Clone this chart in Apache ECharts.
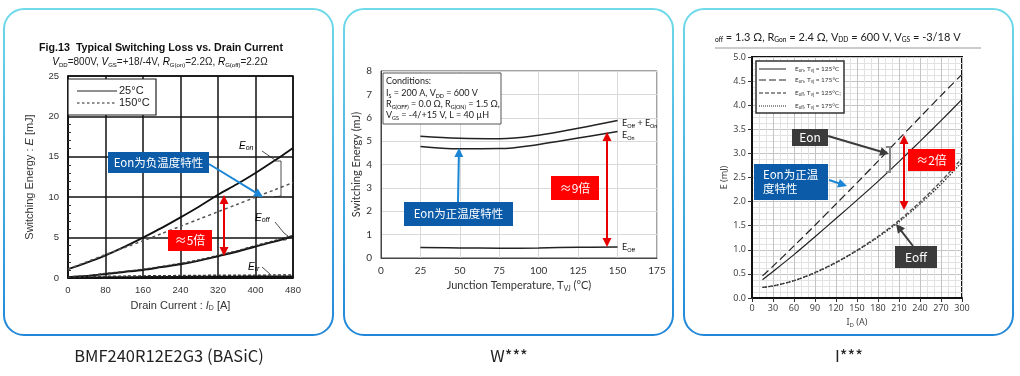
<!DOCTYPE html>
<html>
<head>
<meta charset="utf-8">
<script src="https://cdn.jsdelivr.net/npm/echarts@6/dist/echarts.min.js"></script>
<style>
  html, body { margin: 0; background: #fff; }
  #chart { width: 1020px; height: 376px; }
</style>
</head>
<body>
<div id="chart"></div>
<script>
// ---- panel 1: BASiC, E vs drain current ----
const basicCurrent = [0, 40, 80, 120, 160, 200, 240, 280, 320, 360, 400, 440, 480];
const basicEon25 = [1.1, 1.9, 2.8, 3.85, 5.0, 6.2, 7.5, 8.85, 10.3, 11.6, 13.0, 14.5, 16.1];
const basicEon150 = [1.1, 2.0, 2.9, 3.75, 4.6, 5.5, 6.4, 7.3, 8.2, 9.1, 10.0, 10.9, 11.8];
const basicEoff25 = [0.1, 0.25, 0.5, 0.75, 1.0, 1.35, 1.7, 2.15, 2.7, 3.25, 3.9, 4.5, 5.2];
const basicEoff150 = [0.12, 0.28, 0.55, 0.8, 1.08, 1.42, 1.8, 2.25, 2.8, 3.35, 4.0, 4.6, 5.25];
const basicErr25 = [0.05, 0.08, 0.1, 0.12, 0.14, 0.15, 0.17, 0.18, 0.19, 0.2, 0.21, 0.22, 0.23];
const basicErr150 = [0.1, 0.15, 0.2, 0.23, 0.26, 0.28, 0.3, 0.32, 0.33, 0.34, 0.35, 0.36, 0.37];

// ---- panel 2: W***, E vs junction temperature ----
const wTemp = [25, 50, 75, 100, 125, 150];
const wEtotal = [5.21, 5.12, 5.1, 5.25, 5.55, 5.88];
const wEon = [4.77, 4.67, 4.68, 4.86, 5.13, 5.41];
const wEoff = [0.45, 0.43, 0.42, 0.43, 0.46, 0.47];

// ---- panel 3: I***, E vs drain current ----
const iCurrent = [15, 30, 60, 90, 120, 150, 180, 210, 240, 270, 300];
const iEon125 = [0.38, 0.55, 0.9, 1.27, 1.65, 2.03, 2.42, 2.83, 3.25, 3.68, 4.12];
const iEon175 = [0.46, 0.66, 1.08, 1.51, 1.95, 2.39, 2.84, 3.3, 3.75, 4.2, 4.64];
const iEoff125 = [0.22, 0.25, 0.36, 0.53, 0.74, 0.99, 1.28, 1.61, 1.99, 2.42, 2.9];
const iEoff175 = [0.22, 0.25, 0.36, 0.52, 0.73, 0.98, 1.26, 1.58, 1.95, 2.36, 2.82];

const captions = ['BMF240R12E2G3 (BASiC)', 'W***', 'I***'];

const pairs = (xs, ys) => xs.map((x, i) => [x, ys[i]]);

const chart = echarts.init(document.getElementById('chart'));

const CJK = '"Noto Sans CJK SC", sans-serif';

function arrow(x1, y1, x2, y2, color, width, both) {
  const a = Math.atan2(y2 - y1, x2 - x1);
  const hl = 9, hw = 4.5;
  const head = (x, y, ang) => ({
    type: 'polygon', z: 30,
    shape: { points: [
      [x, y],
      [x - hl * Math.cos(ang) + hw * Math.sin(ang), y - hl * Math.sin(ang) - hw * Math.cos(ang)],
      [x - hl * Math.cos(ang) - hw * Math.sin(ang), y - hl * Math.sin(ang) + hw * Math.cos(ang)]
    ] },
    style: { fill: color }
  });
  const sx = both ? x1 + (hl - 2) * Math.cos(a) : x1;
  const sy = both ? y1 + (hl - 2) * Math.sin(a) : y1;
  const els = [
    { type: 'line', z: 30, shape: { x1: sx, y1: sy, x2: x2 - (hl - 2) * Math.cos(a), y2: y2 - (hl - 2) * Math.sin(a) },
      style: { stroke: color, lineWidth: width } },
    head(x2, y2, a)
  ];
  if (both) els.push(head(x1, y1, a + Math.PI));
  return els;
}

function box(x, y, w, h, fill, text, size) {
  return [
    { type: 'rect', z: 31, shape: { x: x, y: y, width: w, height: h }, style: { fill: fill } },
    { type: 'text', z: 32, x: x + w / 2, y: y + h / 2,
      style: { text: text, fill: '#fff', fontSize: size, fontFamily: CJK, align: 'center', verticalAlign: 'middle' } }
  ];
}

function txt(x, y, text, style) {
  return { type: 'text', z: 32, x: x, y: y, style: Object.assign({ text: text, verticalAlign: 'middle' }, style) };
}

function poly(points, color, width, dash) {
  return { type: 'polyline', z: 30, shape: { points: points },
    style: { stroke: color, lineWidth: width, fill: null, lineDash: dash || null } };
}

const border = new echarts.graphic.LinearGradient(0, 0, 0, 1, [
  { offset: 0, color: '#70dbe9' },
  { offset: 1, color: '#1f86d9' }
]);

const subRich = (font, size) => ({
  n: { fontFamily: font, fontSize: size, fill: '#222', color: '#222' },
  i: { fontFamily: font, fontSize: size, fontStyle: 'italic', color: '#222' },
  s: { fontFamily: font, fontSize: size * 0.6, verticalAlign: 'bottom', lineHeight: size + 2, color: '#222' },
  is: { fontFamily: font, fontSize: size * 0.7, fontStyle: 'italic', verticalAlign: 'bottom', lineHeight: size + 2, color: '#222' }
});

const graphic = [];
// panel borders and captions
[4, 344, 684].forEach((x, k) => {
  graphic.push({ type: 'rect', z: 0, shape: { x: x, y: 9, width: 329, height: 326, r: 20 },
    style: { fill: 'none', stroke: border, lineWidth: 2 } });
  graphic.push(txt(x + 165, 356, captions[k], { fontSize: 16.5, fontFamily: CJK, fill: '#222', align: 'center' }));
});

// panel 1 header
graphic.push(txt(161, 48, 'Fig.13  Typical Switching Loss vs. Drain Current',
  { fontSize: 10.7, fontWeight: 'bold', fontFamily: 'Liberation Sans', fill: '#111', align: 'center' }));
graphic.push(txt(160, 62, '{i|V}{s|DD}{n|=800V, }{i|V}{s|GS}{n|=+18/-4V, }{i|R}{s|G(on)}{n|=2.2Ω, }{i|R}{s|G(off)}{n|=2.2Ω}',
  { align: 'center', rich: subRich('Liberation Sans', 10) }));
// panel 1 legend
graphic.push({ type: 'rect', z: 29, shape: { x: 68, y: 79, width: 88, height: 36 },
  style: { fill: '#fff', stroke: '#222', lineWidth: 1.2 } });
graphic.push(poly([[77, 91], [117, 91]], '#222', 1.2));
graphic.push(poly([[77, 103], [117, 103]], '#222', 1.2, [2.5, 2.5]));
graphic.push(txt(119, 91, '25°C', { fontSize: 11, fontFamily: 'Liberation Sans', fill: '#222' }));
graphic.push(txt(119, 103, '150°C', { fontSize: 11, fontFamily: 'Liberation Sans', fill: '#222' }));
// panel 1 curve labels
graphic.push(txt(239, 146, '{i|E}{is|on}', { rich: subRich('Liberation Sans', 10) }));
graphic.push(poly([[262, 151], [275, 160]], '#222', 0.8));
graphic.push(poly([[275, 161], [281, 161], [281, 196], [274, 197]], '#222', 0.8));
graphic.push(txt(255, 218, '{i|E}{is|off}', { rich: subRich('Liberation Sans', 10) }));
graphic.push(poly([[275, 222], [284, 233], [288, 236], [286, 240], [283, 240]], '#222', 0.8));
graphic.push(txt(248, 267, '{i|E}{is|rr}', { rich: subRich('Liberation Sans', 10) }));
graphic.push(poly([[262, 267], [270, 274]], '#222', 0.8));
// panel 1 annotations
graphic.push(...box(108, 152, 101, 21, '#0b5ba8', 'Eon为负温度特性', 11.5));
graphic.push(...arrow(209, 164, 263, 197, '#1c86d6', 2));
graphic.push(...box(168, 230, 44, 21, '#ff0000', '≈5倍', 12));
graphic.push(...arrow(224, 195, 224, 256, '#e60000', 2, true));

// panel 2 conditions box
const lato = 'Lato';
graphic.push({ type: 'rect', z: 29, shape: { x: 383, y: 73, width: 118, height: 51 },
  style: { fill: '#fff', stroke: '#555', lineWidth: 1 } });
const condRich = subRich(lato, 9);
graphic.push(txt(386, 81, '{n|Conditions:}', { rich: condRich }));
graphic.push(txt(386, 93, '{n|I}{s|S}{n| = 200 A, V}{s|DD}{n| = 600 V}', { rich: condRich }));
graphic.push(txt(386, 104, '{n|R}{s|G(OFF)}{n| = 0.0 Ω, R}{s|G(ON)}{n| = 1.5 Ω,}', { rich: condRich }));
graphic.push(txt(386, 115, '{n|V}{s|GS}{n| = -4/+15 V, L = 40 µH}', { rich: condRich }));
const lblRich = subRich(lato, 9);
graphic.push(txt(622, 123, '{n|E}{s|Off}{n| + E}{s|On}', { rich: lblRich }));
graphic.push(txt(622, 135, '{n|E}{s|On}', { rich: lblRich }));
graphic.push(txt(622, 247, '{n|E}{s|Off}', { rich: lblRich }));
graphic.push(...box(404, 202, 109, 24, '#0b5ba8', 'Eon为正温度特性', 11.5));
graphic.push(...arrow(458, 202, 459, 148, '#1c86d6', 2));
graphic.push(...box(551, 176, 48, 24, '#ff0000', '≈9倍', 12));
graphic.push(...arrow(607, 132, 607, 247, '#e60000', 2, true));

// panel 3 header
graphic.push(txt(715, 37, '{s|off}{n| = 1.3 Ω, R}{s|Gon}{n| = 2.4 Ω, V}{s|DD}{n| = 600 V, V}{s|GS}{n| = -3/18 V}',
  { rich: subRich(lato, 11) }));
graphic.push(poly([[715, 48], [981, 48]], '#999', 1));
// panel 3 legend
graphic.push({ type: 'rect', z: 29, shape: { x: 756, y: 61, width: 88, height: 52 },
  style: { fill: '#fff', stroke: '#333', lineWidth: 1.5 } });
const legRows = [
  [69, null, 'E{s|on}, T{s|vj} = 125°C'],
  [80, [7, 3], 'E{s|on}, T{s|vj} = 175°C'],
  [93, [4, 2], 'E{s|off}, T{s|vj} = 125°C;'],
  [106, [1, 1], 'E{s|off}, T{s|vj} = 175°C']
];
legRows.forEach(r => {
  graphic.push(poly([[759, r[0]], [786, r[0]]], '#222', 1, r[1]));
  graphic.push(txt(795, r[0], r[2], { fontSize: 6.5, fontFamily: lato, fill: '#333',
    rich: { s: { fontSize: 4.5, verticalAlign: 'bottom', lineHeight: 8, color: '#333' } } }));
});
// panel 3 annotations
graphic.push(...box(792, 129, 36, 17, '#3b3b3b', 'Eon', 12));
graphic.push(...arrow(828, 136, 889, 154, '#3b3b3b', 2));
graphic.push(poly([[886, 147], [890, 147], [890, 172], [886, 172]], '#888', 2));
graphic.push({ type: 'rect', z: 31, shape: { x: 754, y: 164, width: 74, height: 36 }, style: { fill: '#0b5ba8' } });
graphic.push(txt(763, 182, 'Eon为正温\n度特性', { fontSize: 11.5, fontFamily: CJK, fill: '#fff', lineHeight: 14 }));
graphic.push(...arrow(829, 180, 847, 186, '#1c86d6', 2));
graphic.push(...box(908, 149, 47, 22, '#ff0000', '≈2倍', 12));
graphic.push(...arrow(904, 135, 904, 210, '#e60000', 2, true));
graphic.push(...box(895, 246, 42, 22, '#3b3b3b', 'Eoff', 12));
graphic.push(...arrow(913, 246, 896, 224, '#3b3b3b', 2));

const line = (name, xi, xs, ys, color, width, type, smooth) => ({
  name: name, type: 'line', xAxisIndex: xi, yAxisIndex: xi,
  data: pairs(xs, ys), showSymbol: false, symbol: 'none', silent: true,
  smooth: smooth === undefined ? 0.3 : smooth,
  lineStyle: { color: color, width: width, type: type || 'solid' }
});

const option = {
  animation: false,
  backgroundColor: '#fff',
  grid: [
    { left: 68, top: 76, width: 225, height: 202, show: true, borderColor: '#111', borderWidth: 1.5, backgroundColor: '#fff' },
    { left: 381, top: 71, width: 276, height: 187, show: true, borderColor: '#444', borderWidth: 1, backgroundColor: '#fff' },
    { left: 752, top: 57, width: 210, height: 241, show: true, borderColor: '#111', borderWidth: 2, backgroundColor: '#fff' }
  ],
  xAxis: [
    { gridIndex: 0, type: 'value', min: 0, max: 480, interval: 80,
      axisLine: { lineStyle: { color: '#111', width: 1.5 } }, axisTick: { show: false },
      axisLabel: { fontSize: 9.5, color: '#333', fontFamily: 'Liberation Sans', margin: 7 },
      splitLine: { lineStyle: { color: '#111', width: 1.5 } },
      name: 'Drain Current : {i|I}{s|D} [A]', nameLocation: 'middle', nameGap: 21,
      nameTextStyle: { fontSize: 11, fontFamily: 'Liberation Sans', color: '#333',
        rich: { i: { fontSize: 11, fontStyle: 'italic', color: '#333' }, s: { fontSize: 7, verticalAlign: 'bottom', lineHeight: 13, color: '#333' } } } },
    { gridIndex: 1, type: 'value', min: 0, max: 175, interval: 25,
      axisLine: { lineStyle: { color: '#444' } }, axisTick: { show: false },
      axisLabel: { fontSize: 10, color: '#333', fontFamily: lato, margin: 8 },
      splitLine: { lineStyle: { color: '#d9d9d9' } },
      name: 'Junction Temperature, T{s|VJ} (°C)', nameLocation: 'middle', nameGap: 21,
      nameTextStyle: { fontSize: 11, fontFamily: lato, color: '#333',
        rich: { s: { fontSize: 7, verticalAlign: 'bottom', lineHeight: 13, color: '#333' } } } },
    { gridIndex: 2, type: 'value', min: 0, max: 300, interval: 30,
      axisLine: { lineStyle: { color: '#111', width: 2 } },
      axisTick: { show: true, length: 4, lineStyle: { color: '#333' } },
      axisLabel: { fontSize: 9, color: '#444', fontFamily: 'Noto Sans', margin: 6 },
      splitLine: { lineStyle: { color: '#c4c4c4' } },
      minorTick: { show: false, splitNumber: 3 },
      minorSplitLine: { show: true, lineStyle: { color: '#e2e2e2' } },
      name: 'I{s|D} (A)', nameLocation: 'middle', nameGap: 17,
      nameTextStyle: { fontSize: 9, fontFamily: 'Noto Sans', color: '#444',
        rich: { s: { fontSize: 6, verticalAlign: 'bottom', lineHeight: 11, color: '#444' } } } }
  ],
  yAxis: [
    { gridIndex: 0, type: 'value', min: 0, max: 25, interval: 5,
      axisLine: { lineStyle: { color: '#111', width: 1.5 } },
      axisTick: { show: false, inside: true },
      minorTick: { show: true, splitNumber: 5, length: 3, lineStyle: { color: '#333' } },
      axisLabel: { fontSize: 9.5, color: '#333', fontFamily: 'Liberation Sans', margin: 9 },
      splitLine: { lineStyle: { color: '#111', width: 1.5 } },
      name: 'Switching Energy : {i|E} [mJ]', nameLocation: 'middle', nameGap: 33,
      nameTextStyle: { fontSize: 11, fontFamily: 'Liberation Sans', color: '#333',
        rich: { i: { fontSize: 11, fontStyle: 'italic', color: '#333' } } } },
    { gridIndex: 1, type: 'value', min: 0, max: 8, interval: 1,
      axisLine: { lineStyle: { color: '#444' } }, axisTick: { show: false },
      axisLabel: { fontSize: 10, color: '#333', fontFamily: lato, margin: 9 },
      splitLine: { lineStyle: { color: '#d9d9d9' } },
      name: 'Switching Energy (mJ)', nameLocation: 'middle', nameGap: 17,
      nameTextStyle: { fontSize: 11, fontFamily: lato, color: '#333' } },
    { gridIndex: 2, type: 'value', min: 0, max: 5, interval: 0.5,
      axisLine: { lineStyle: { color: '#111', width: 2 } },
      axisTick: { show: true, length: 4, lineStyle: { color: '#333' } },
      axisLabel: { fontSize: 9, color: '#444', fontFamily: 'Noto Sans', margin: 6,
        formatter: v => v.toFixed(1) },
      splitLine: { lineStyle: { color: '#c4c4c4' } },
      minorTick: { show: false, splitNumber: 4 },
      minorSplitLine: { show: true, lineStyle: { color: '#e2e2e2' } },
      name: 'E (mJ)', nameLocation: 'middle', nameGap: 22,
      nameTextStyle: { fontSize: 9, fontFamily: 'Noto Sans', color: '#444' } }
  ],
  series: [
    line('Eon 25°C', 0, basicCurrent, basicEon25, '#111', 1.8),
    line('Eon 150°C', 0, basicCurrent, basicEon150, '#555', 1.5, [3, 3]),
    line('Eoff 25°C', 0, basicCurrent, basicEoff25, '#111', 2),
    line('Eoff 150°C', 0, basicCurrent, basicEoff150, '#333', 1.5, [3, 2]),
    line('Err 25°C', 0, basicCurrent, basicErr25, '#111', 1.5),
    line('Err 150°C', 0, basicCurrent, basicErr150, '#333', 1.5, [3, 2]),

    line('Eoff + Eon', 1, wTemp, wEtotal, '#222', 1.5, 'solid', 0.4),
    line('Eon', 1, wTemp, wEon, '#222', 1.5, 'solid', 0.4),
    line('Eoff', 1, wTemp, wEoff, '#222', 1.5, 'solid', 0.4),

    line('Eon Tvj=125°C', 2, iCurrent, iEon125, '#222', 1.2),
    line('Eon Tvj=175°C', 2, iCurrent, iEon175, '#222', 1.2, [8, 4]),
    line('Eoff Tvj=125°C', 2, iCurrent, iEoff125, '#555', 1.4, [4, 2]),
    line('Eoff Tvj=175°C', 2, iCurrent, iEoff175, '#222', 1.2, [1.5, 1.5])
  ],
  graphic: graphic
};

chart.setOption(option);
</script>
</body>
</html>
